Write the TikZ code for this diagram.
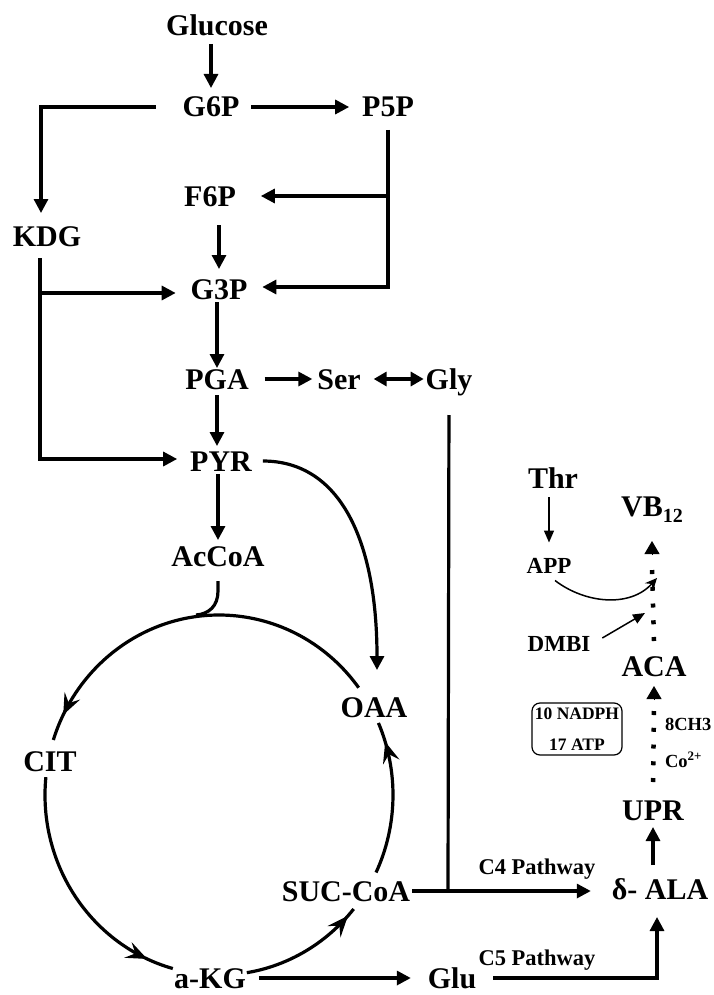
\documentclass[tikz,border=0pt]{standalone}
\usepackage{fontspec}
\setmainfont{Liberation Serif}
\usetikzlibrary{arrows.meta,decorations.markings}
\begin{document}
\begin{tikzpicture}[x=1pt,y=1pt,
  big/.style={font=\fontsize{30}{36}\selectfont\bfseries, inner sep=0pt, outer sep=0pt, text height=20pt, text depth=0pt},
  small/.style={font=\fontsize{23}{28}\selectfont\bfseries, inner sep=0pt, outer sep=0pt, text height=15pt, text depth=0pt},
  mid/.style={font=\fontsize{22.5}{27}\selectfont\bfseries, inner sep=0pt, outer sep=0pt, text height=15pt, text depth=0pt},
  tiny/.style={font=\fontsize{18.5}{22}\selectfont\bfseries, inner sep=0pt, outer sep=0pt, text height=12pt, text depth=0pt},
  boxnode/.style={draw, line width=1.2pt, rounded corners=8pt, minimum width=90pt, minimum height=52pt, inner sep=0pt, align=center, font=\fontsize{17.5}{31}\selectfont\bfseries},
  ln/.style={line width=3.2pt},
  arr/.style={ln, -{Triangle[length=14pt,width=14pt]}},
  darr/.style={ln, {Triangle[length=13pt,width=14pt]}-{Triangle[length=13pt,width=14pt]}},
  thinarr/.style={line width=1.5pt, -{Triangle[length=12pt,width=10pt]}},
  barbarr/.style={line width=1.5pt, -{Stealth[length=12pt,width=11pt,inset=4pt]}},
  dotln/.style={line width=4.5pt, dash pattern=on 4pt off 12.75pt},
  tri/.style={line width=1pt, -{Triangle[length=13pt,width=15pt]}},
  cyc/.style={ln, postaction={decorate}, decoration={markings, mark=at position #1 with {\arrow{Stealth[length=21pt,width=17pt,inset=8pt]}}}}
]
\useasboundingbox (0,0) rectangle (714,-995);

% nodes
\node[big] (Glucose) at (217,-26) {Glucose};
\node[big] (G6P) at (211,-107) {G6P};
\node[big] (P5P) at (388,-107) {P5P};
\node[big] (F6P) at (210,-196) {F6P};
\node[big] (KDG) at (47,-236) {KDG};
\node[big] (G3P) at (219,-289) {G3P};
\node[big] (PGA) at (217,-379) {PGA};
\node[big] (Ser) at (339,-379) {Ser};
\node[big] (Gly) at (449,-379) {Gly};
\node[big] (PYR) at (221,-461) {PYR};
\node[big] (AcCoA) at (218,-556) {AcCoA};
\node[big] (OAA) at (374,-707) {OAA};
\node[big] (CIT) at (50,-761) {CIT};
\node[big] (SUC) at (346,-891) {SUC-CoA};
\node[big] (aKG) at (210,-978) {a-KG};
\node[big] (Glu) at (452,-978) {Glu};
\node[big] (ALA) at (660,-889) {δ- ALA};
\node[big] (UPR) at (653,-810) {UPR};
\node[big] (ACA) at (654,-666) {ACA};
\node[big] (VB) at (652,-506) {VB\raisebox{-6pt}{\fontsize{20}{20}\selectfont 12}};
\node[big] (Thr) at (553,-478) {Thr};
\node[small] (APP) at (549,-566) {APP};
\node[small] (DMBI) at (559,-644) {DMBI};
\node[boxnode] (cofac) at (577,-729) {10 NADPH\\17 ATP};
\node[tiny, anchor=west] (CH) at (665,-724) {8CH3};
\node[tiny, anchor=west] (Co) at (665,-761) {Co\textsuperscript{2+}};
\node[mid] (C4) at (537,-867) {C4 Pathway};
\node[mid] (C5) at (537,-958) {C5 Pathway};

% helper coordinates
\coordinate (cc) at (219,-795);
\coordinate (kdgl) at ([xshift=-7pt]KDG.south);
\coordinate (g3pw) at ([yshift=-4pt]G3P.west);
\coordinate (c4j) at (448,-890);
\coordinate (hookend) at (196,-615);
\coordinate (m1) at (657,-578);
\coordinate (m2) at (645,-613);

% upper pathway
\draw[arr, shorten <=8pt, shorten >=9pt] (G6P.north |- Glucose.south) -- (G6P.north);
\draw[arr, shorten <=12pt, shorten >=13pt] (G6P.east) -- (P5P.west);
\draw[arr, shorten <=27pt, shorten >=13pt] (G6P.west) -| ([xshift=-6pt]KDG.north);
\draw[arr, shorten <=13pt, shorten >=15pt] (P5P.south) |- ([yshift=2pt]G3P.east);
\draw[arr, shorten >=25pt] (P5P.south |- F6P.east) -- (F6P.east);
\draw[arr, shorten <=19pt, shorten >=10pt] (G3P.north |- F6P.south) -- (G3P.north);
\draw[arr, shorten <=12pt, shorten >=13pt] (kdgl) |- ([yshift=2pt]PYR.west);
\draw[arr, shorten >=15pt] (kdgl |- g3pw) -- (g3pw);
\draw[arr, shorten <=3pt, shorten >=1pt] (PGA.north |- G3P.south) -- (PGA.north);
\draw[arr, shorten <=16pt, shorten >=5pt] (PGA.east) -- (Ser.west);
\draw[darr, shorten <=13pt, shorten >=2pt] (Ser.east) -- (Gly.west);
\draw[arr, shorten <=6pt, shorten >=5pt] (PGA.south) -- (PGA.south |- PYR.north);
\draw[arr, shorten <=3pt, shorten >=6pt] (AcCoA.north |- PYR.south) -- (AcCoA.north);
\draw[arr, shorten <=11pt, shorten >=27pt] (PYR.east) .. controls +(88,0) and +(0,157) .. ([xshift=3pt]OAA.north);

% AcCoA hook into the cycle
\draw[ln] ([yshift=-15pt]AcCoA.south) -- ++(0,-10) .. controls +(0,-15) and +(13,1) .. (hookend);

% TCA cycle
\draw[cyc=0.93] ([shift={(36.6:174 and 180)}]cc) arc[start angle=36.6, end angle=162.2, x radius=174, y radius=180];
\draw[cyc=0.89] ([shift={(174.3:174 and 180)}]cc) arc[start angle=174.3, end angle=254.6, x radius=174, y radius=180];
\draw[cyc=0.93] ([shift={(279.2:174 and 180)}]cc) arc[start angle=279.2, end angle=320.7, x radius=174, y radius=180];
\draw[cyc=0.87] ([shift={(334.5:174 and 180)}]cc) arc[start angle=334.5, end angle=383.6, x radius=174, y radius=180];

% lower pathways
\draw[arr, shorten <=13pt, shorten >=17pt] (aKG.east) -- (Glu.west);
\draw[arr, shorten <=2pt, shorten >=21pt] (SUC.east) -- (SUC.east -| ALA.west);
\draw[ln, shorten <=26pt] (Gly.south) -- (c4j);
\draw[arr, shorten <=17pt, shorten >=18pt] (Glu.east) -| ([xshift=-3pt]ALA.south);
\draw[arr, shorten <=14pt, shorten >=7pt] (UPR.south |- ALA.north) -- (UPR.south);

% dotted steps to ACA and VB12
\draw[dotln] ([yshift=18pt]UPR.north) -- ([yshift=-34pt]ACA.south);
\draw[tri] ([yshift=-24pt]ACA.south) -- ([yshift=-10pt]ACA.south);
\draw[dotln] ([yshift=15pt]ACA.north) -- ([yshift=-53pt]VB.south);
\draw[tri] ([yshift=-39pt]VB.south) -- ([yshift=-25pt]VB.south);

% side inputs
\draw[thinarr, shorten <=9pt, shorten >=16pt] (APP.north |- Thr.south) -- (APP.north);
\draw[barbarr] ([xshift=6pt,yshift=-7pt]APP.south) .. controls +(30,-23) and +(-27,-30) .. (m1);
\draw[thinarr] ([xshift=12pt,yshift=6pt]DMBI.east) -- (m2);
\end{tikzpicture}
\end{document}
